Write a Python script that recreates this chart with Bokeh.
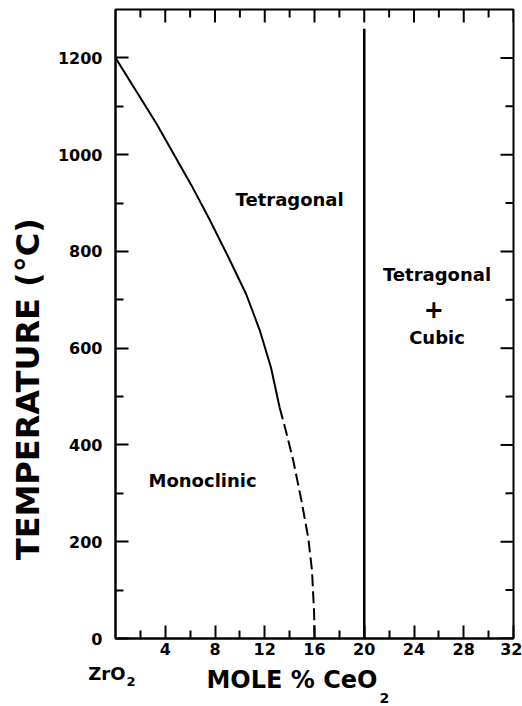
import math
from bokeh.plotting import figure
from bokeh.models import FixedTicker, LinearAxis, Label
from bokeh.layouts import row, column
from bokeh.embed import file_html
from bokeh.resources import INLINE

# ---- data ----
solid_x = [0.0, 3.3, 6.1, 7.5, 9.1, 10.5, 11.6, 12.5, 13.2]
solid_T = [1200, 1064, 937, 869, 787, 712, 637, 560, 477]
dash_x = [13.2, 13.7, 14.3, 14.95, 15.5, 15.8, 15.97, 16.0]
dash_T = [477, 429, 367, 285, 208, 140, 52, 0]
bound_x = [20, 20]
bound_T = [0, 1260]

x_major = [4, 8, 12, 16, 20, 24, 28, 32]
x_minor = [2, 6, 10, 14, 18, 22, 26, 30]
y_major = [0, 200, 400, 600, 800, 1000, 1200]
y_minor = [100, 300, 500, 700, 900, 1100]

X_MAX, T_MAX = 32, 1300
FONT = "DejaVu Sans"

W_TOTAL, H_TOTAL = 522, 706
YLAB_W = 50
MAIN_H = 661
MAIN_W = W_TOTAL - YLAB_W
XLAB_H = H_TOTAL - MAIN_H

p = figure(width=MAIN_W, height=MAIN_H, x_range=(0, X_MAX), y_range=(0, T_MAX),
           output_backend="svg", toolbar_location=None, title=None,
           min_border_left=65, min_border_right=9, min_border_top=9,
           min_border_bottom=23, x_axis_location=None, y_axis_location=None)
p.grid.visible = False
p.outline_line_color = "black"
p.outline_line_width = 2
p.background_fill_color = "white"
p.border_fill_color = "white"


def style_axis(ax, ticks, minor):
    ax.ticker = FixedTicker(ticks=ticks, minor_ticks=minor)
    ax.axis_line_color = "black"
    ax.axis_line_width = 2
    ax.major_tick_in = 13
    ax.major_tick_out = 0
    ax.minor_tick_in = 8
    ax.minor_tick_out = 0
    ax.major_tick_line_width = 2
    ax.minor_tick_line_width = 2
    ax.major_tick_line_color = "black"
    ax.minor_tick_line_color = "black"
    ax.major_label_text_font = FONT
    ax.major_label_text_font_style = "bold"
    ax.major_label_text_font_size = "16px"
    ax.major_label_text_color = "black"


bottom = LinearAxis()
style_axis(bottom, x_major, x_minor)
bottom.major_label_standoff = 4
p.add_layout(bottom, "below")

left = LinearAxis()
style_axis(left, y_major, y_minor)
left.major_label_standoff = 13
p.add_layout(left, "left")

# inward ticks on the top and right frame edges
p.ray(x=x_major, y=[T_MAX] * len(x_major), length=13, length_units="screen",
      angle=-math.pi / 2, line_color="black", line_width=2)
p.ray(x=x_minor, y=[T_MAX] * len(x_minor), length=8, length_units="screen",
      angle=-math.pi / 2, line_color="black", line_width=2)
p.ray(x=[X_MAX] * len(y_major), y=y_major, length=13, length_units="screen",
      angle=math.pi, line_color="black", line_width=2)
p.ray(x=[X_MAX] * len(y_minor), y=y_minor, length=8, length_units="screen",
      angle=math.pi, line_color="black", line_width=2)

# phase boundaries
p.line(solid_x, solid_T, line_color="black", line_width=2)
p.line(dash_x, dash_T, line_color="black", line_width=2, line_dash="12 5")
p.line(bound_x, bound_T, line_color="black", line_width=2.5)


def add_label(fig, x, y, text, size, align="center", angle=0):
    fig.add_layout(Label(x=x, y=y, text=text, text_font=FONT, text_font_style="bold",
                         text_font_size=size, text_color="black", text_align=align,
                         text_baseline="middle", angle=angle))


# region names (y = vertical centre of the capitals)
add_label(p, 14.0, 907, "Tetragonal", "18px")
add_label(p, 25.85, 752, "Tetragonal", "18px")
add_label(p, 25.6, 680, "+", "24px")
add_label(p, 25.85, 623, "Cubic", "18px")
add_label(p, 7.0, 327, "Monoclinic", "18px")


def blank_fig(w, h):
    f = figure(width=w, height=h, x_range=(0, w), y_range=(0, h),
               output_backend="svg", toolbar_location=None, title=None,
               min_border=0, x_axis_location=None, y_axis_location=None)
    f.grid.visible = False
    f.outline_line_color = None
    f.background_fill_color = "white"
    f.border_fill_color = "white"
    return f


# y-axis title panel (pixel coordinates, y measured upward)
yl = blank_fig(YLAB_W, MAIN_H)
add_label(yl, 27.5, MAIN_H - 399, "TEMPERATURE (°C)", "32px", angle=math.pi / 2)

# x-axis title panel (pixel coordinates, y measured upward from page bottom)
xl = blank_fig(W_TOTAL, XLAB_H)
add_label(xl, 125, H_TOTAL - 673, "ZrO", "18px", align="right")
add_label(xl, 126, H_TOTAL - 681, "2", "13px", align="left")
add_label(xl, 377, H_TOTAL - 679.5, "MOLE % CeO", "24px", align="right")
add_label(xl, 379, H_TOTAL - 697, "2", "14px", align="left")

layout = column(row(yl, p, spacing=0), xl, spacing=0)

open("out.html", "w").write(file_html(layout, INLINE))
